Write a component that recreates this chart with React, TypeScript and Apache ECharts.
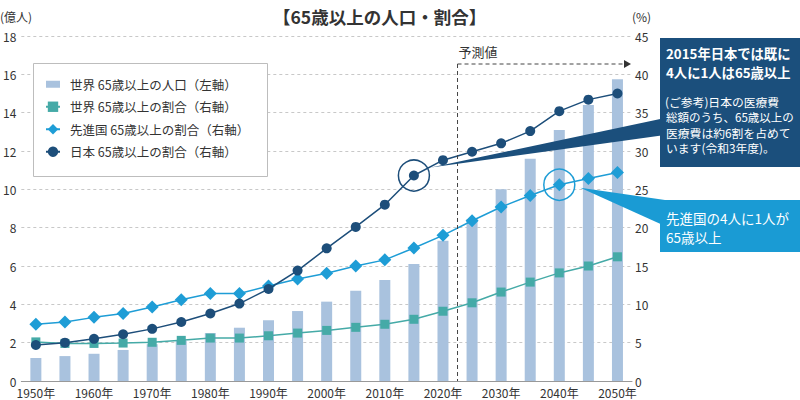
import React, { useEffect, useRef } from "react";
import * as echarts from "echarts";

const years = [1950, 1955, 1960, 1965, 1970, 1975, 1980, 1985, 1990, 1995, 2000, 2005, 2010, 2015, 2020, 2025, 2030, 2035, 2040, 2045, 2050];
const worldPop = [1.2, 1.3, 1.42, 1.62, 1.92, 2.1, 2.5, 2.78, 3.17, 3.65, 4.14, 4.71, 5.27, 6.1, 7.32, 8.45, 10.0, 11.6, 13.1, 14.4, 15.74];
const worldRatio = [5.1, 4.9, 4.9, 4.95, 5.05, 5.3, 5.6, 5.6, 5.9, 6.25, 6.6, 7.0, 7.4, 8.05, 9.1, 10.2, 11.6, 12.9, 14.1, 15.0, 16.2];
const developedRatio = [7.4, 7.7, 8.3, 8.8, 9.65, 10.6, 11.4, 11.4, 12.4, 13.3, 14.05, 15.0, 15.8, 17.35, 19.0, 20.9, 22.7, 24.2, 25.6, 26.4, 27.2];
const japanRatio = [4.7, 5.0, 5.5, 6.1, 6.8, 7.7, 8.8, 10.1, 12.0, 14.4, 17.3, 20.1, 23.0, 26.8, 28.8, 29.9, 31.0, 32.6, 35.2, 36.7, 37.5];

const seriesNames = [
  "世界 65歳以上の人口（左軸）",
  "世界 65歳以上の割合（右軸）",
  "先進国 65歳以上の割合（右軸）",
  "日本 65歳以上の割合（右軸）",
];

const FONT = '"Noto Sans CJK JP", "Noto Sans", sans-serif';
const C_BAR = "#a9c2de";
const C_WORLD = "#45aaa7";
const C_DEV = "#1e9dd6";
const C_JP = "#1d4e7a";
const TXT = "#333";

export default function App() {
  const ref = useRef<HTMLDivElement>(null);
  useEffect(() => {
    const chart = echarts.init(ref.current!, null, { renderer: "svg" });
    chart.setOption({
      animation: false,
      textStyle: { fontFamily: FONT },
      title: {
        text: "【65歳以上の人口・割合】",
        left: 268,
        top: 3,
        textStyle: { fontSize: 17.5, fontWeight: "bold", color: TXT, fontFamily: FONT },
      },
      grid: { left: 18, right: 168, top: 36, bottom: 19, containLabel: false },
      legend: {
        orient: "vertical",
        left: 45,
        top: 78,
        padding: 0,
        itemGap: 10,
        itemWidth: 14,
        itemHeight: 13,
        textStyle: { fontSize: 12.5, color: TXT, fontFamily: FONT, padding: [0, 0, 0, 5] },
        data: [
          { name: seriesNames[0], icon: "path://M0,0H14V7H0Z" },
          { name: seriesNames[1] },
          { name: seriesNames[2] },
          { name: seriesNames[3] },
        ],
      },
      xAxis: {
        type: "category",
        data: years,
        axisTick: { show: false },
        axisLine: { lineStyle: { color: "#999" } },
        axisLabel: {
          interval: 1,
          formatter: (v: string) => v + "年",
          fontSize: 12,
          color: TXT,
          margin: 5,
          fontFamily: FONT,
        },
      },
      yAxis: [
        {
          type: "value",
          min: 0,
          max: 18,
          interval: 2,
          axisLine: { show: false },
          axisTick: { show: false },
          axisLabel: { fontSize: 12, color: TXT, margin: 5, fontFamily: FONT },
          splitLine: { lineStyle: { color: "#c8c8c8", type: [3, 3] } },
        },
        {
          type: "value",
          min: 0,
          max: 45,
          interval: 5,
          axisLine: { show: false },
          axisTick: { show: false },
          axisLabel: { fontSize: 12, color: TXT, margin: 3, fontFamily: FONT },
          splitLine: { show: false },
        },
      ],
      series: [
        {
          name: seriesNames[0],
          type: "bar",
          yAxisIndex: 0,
          data: worldPop,
          barWidth: 11,
          itemStyle: { color: C_BAR },
          z: 1,
        },
        {
          name: seriesNames[1],
          type: "line",
          yAxisIndex: 1,
          data: worldRatio,
          symbol: "rect",
          symbolSize: 9,
          itemStyle: { color: C_WORLD },
          lineStyle: { color: C_WORLD, width: 1.5 },
          z: 2,
        },
        {
          name: seriesNames[2],
          type: "line",
          yAxisIndex: 1,
          data: developedRatio,
          symbol: "diamond",
          symbolSize: 13,
          itemStyle: { color: C_DEV },
          lineStyle: { color: C_DEV, width: 1.5 },
          z: 3,
        },
        {
          name: seriesNames[3],
          type: "line",
          yAxisIndex: 1,
          data: japanRatio,
          symbol: "circle",
          symbolSize: 10,
          itemStyle: { color: C_JP },
          lineStyle: { color: C_JP, width: 1.5 },
          z: 4,
        },
      ],
    });

    const px = (si: number, idx: number, v: number) =>
      chart.convertToPixel({ seriesIndex: si }, [idx, v]) as number[];
    const i2015 = years.indexOf(2015);
    const i2040 = years.indexOf(2040);
    const i2020 = years.indexOf(2020);
    const pJp = px(3, i2015, japanRatio[i2015]);
    const pDev = px(2, i2040, developedRatio[i2040]);
    const xa = px(0, i2020, 0);
    const xb = px(0, i2020 + 1, 0);
    const xSplit = (xa[0] + xb[0]) / 2;
    const yBase = xa[1];
    const yArrow = 64;
    const xArrowEnd = 631;

    const t = (x: number, y: number, text: string, size: number, color: string, bold = false, z = 20) => ({
      type: "text",
      x,
      y,
      z,
      style: {
        text,
        fill: color,
        fontSize: size,
        fontWeight: bold ? "bold" : "normal",
        fontFamily: FONT,
        verticalAlign: "middle",
        align: "left",
      },
    });

    chart.setOption({
      graphic: [
        t(0, 16, "(億人)", 12, TXT),
        t(632, 16, "(%)", 12, TXT),
        {
          type: "rect",
          z: 3,
          shape: { x: 33.5, y: 63.5, width: 234, height: 113 },
          style: { fill: "#fff", stroke: "#bdbdbd", lineWidth: 1 },
        },
        // forecast markers
        {
          type: "line",
          z: 5,
          shape: { x1: xSplit, y1: yArrow, x2: xSplit, y2: yBase },
          style: { stroke: "#444", lineWidth: 1, lineDash: [4, 3] },
        },
        {
          type: "line",
          z: 5,
          shape: { x1: xSplit, y1: yArrow, x2: xArrowEnd - 6, y2: yArrow },
          style: { stroke: "#444", lineWidth: 1, lineDash: [4, 3] },
        },
        {
          type: "polygon",
          z: 5,
          shape: { points: [[xArrowEnd - 7, yArrow - 4], [xArrowEnd, yArrow], [xArrowEnd - 7, yArrow + 4]] },
          style: { fill: "#333" },
        },
        t(xSplit + 1, 51, "予測値", 13, TXT),
        // annotation circles
        {
          type: "circle",
          z: 6,
          shape: { cx: pJp[0], cy: pJp[1], r: 15.5 },
          style: { fill: "none", stroke: C_JP, lineWidth: 1.5 },
        },
        {
          type: "circle",
          z: 6,
          shape: { cx: pDev[0], cy: pDev[1], r: 15.5 },
          style: { fill: "none", stroke: C_DEV, lineWidth: 1.5 },
        },
        // wedges
        {
          type: "polygon",
          z: 7,
          shape: { points: [[pJp[0] + 17, pJp[1] - 8], [665, 118], [665, 135]] },
          style: { fill: "#1b4f7c" },
        },
        {
          type: "polygon",
          z: 7,
          shape: { points: [[pDev[0] + 21, pDev[1] + 3], [665, 200], [665, 226]] },
          style: { fill: "#1a9bd4" },
        },
        // boxes
        {
          type: "rect",
          z: 10,
          shape: { x: 660, y: 38, width: 140, height: 129 },
          style: { fill: "#1b4f7c" },
        },
        t(666, 53.5, "2015年日本では既に", 13.3, "#fff", true, 11),
        t(666, 72.5, "4人に1人は65歳以上", 13.3, "#fff", true, 11),
        t(665, 101, "(ご参考)日本の医療費", 11.8, "#fff", false, 11),
        t(666, 116.5, "総額のうち、65歳以上の", 11.5, "#fff", false, 11),
        t(666, 132, "医療費は約6割を占めて", 11.8, "#fff", false, 11),
        t(666, 147.5, "います(令和3年度)。", 11.8, "#fff", false, 11),
        {
          type: "rect",
          z: 10,
          shape: { x: 660, y: 200, width: 140, height: 52 },
          style: { fill: "#1a9bd4" },
        },
        t(666, 218, "先進国の4人に1人が", 13.5, "#fff", false, 11),
        t(666, 237, "65歳以上", 13.5, "#fff", false, 11),
      ],
    });

    return () => chart.dispose();
  }, []);

  return (
    <div
      ref={ref}
      style={{ position: "fixed", left: 0, top: 0, width: 800, height: 400, background: "#fff" }}
    />
  );
}
